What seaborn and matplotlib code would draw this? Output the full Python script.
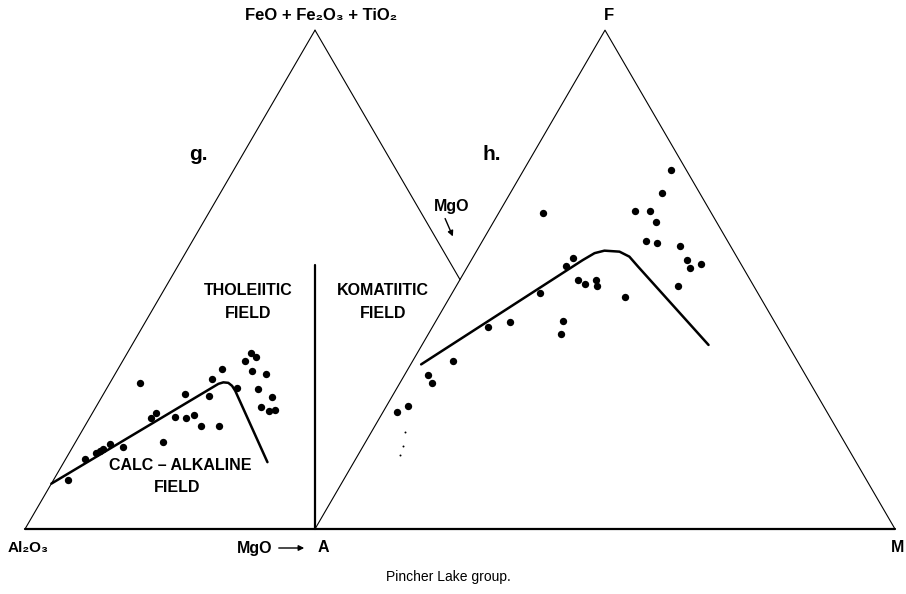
import numpy as np
import pandas as pd
import seaborn as sns
import matplotlib.pyplot as plt

# ---------------- data (ternary percentages) ----------------
# g. Jensen cation plot: Fe = FeO+Fe2O3+TiO2 (apex), Mg = MgO (right), Al2O3 = remainder
g_fe = [9.8, 14.0, 15.2, 15.7, 16.1, 17.0, 16.5, 29.2, 22.2, 23.2, 17.5, 22.4, 27.1, 22.2,
        22.9, 20.6, 26.7, 30.0, 20.6, 32.1, 28.2, 33.6, 35.3, 34.5, 31.7, 31.0, 28.1, 26.5,
        24.5, 23.6, 23.8]
g_mg = [2.5, 3.4, 4.6, 5.0, 5.35, 6.1, 8.65, 5.3, 10.7, 11.0, 15.0, 14.6, 14.05, 16.7,
        17.65, 20.1, 18.3, 17.2, 23.2, 17.9, 22.4, 21.2, 21.3, 22.65, 23.35, 26.1, 26.15, 29.4,
        28.45, 30.2, 31.2]
# calc-alkaline / tholeiitic boundary (g.)
g_curve_fe = [9.1, 29.1, 29.4, 29.3, 28.7, 27.7, 13.4]
g_curve_mg = [0.0, 18.8, 19.5, 20.4, 21.35, 22.4, 35.1]
# tholeiitic / komatiitic boundary (g.)
g_div_fe = [0.0, 52.9]
g_div_mg = [50.0, 23.55]

# h. AFM plot: F (apex), M (right), A = remainder
h_f = [23.4, 24.6, 30.9, 29.3, 33.7, 40.5, 41.4, 47.4, 39.1, 41.7, 52.7, 54.4, 50.0, 49.2,
       50.0, 48.7, 46.6, 63.3, 71.9, 67.3, 63.7, 63.7, 61.5, 57.7, 57.3, 56.7, 53.9, 52.4,
       53.1, 48.7]
h_m = [2.5, 3.8, 4.05, 5.6, 6.95, 9.65, 12.9, 15.1, 22.85, 21.95, 16.95, 17.3, 20.3, 22.0,
       23.5, 24.3, 30.2, 7.6, 25.35, 26.2, 23.4, 25.9, 28.0, 28.15, 30.25, 34.5, 37.25, 38.4,
       39.95, 38.15]
h_speck_f = [19.5, 16.7, 14.8]
h_speck_m = [5.75, 6.85, 7.2]
# tholeiitic / calc-alkaline boundary (h.)
h_curve_f = [33.0, 53.9, 55.3, 55.8, 55.6, 54.6, 52.6, 36.9]
h_curve_m = [1.8, 19.2, 20.55, 22.0, 24.7, 26.9, 29.4, 49.4]

S3 = np.sqrt(3) / 2


def tern_g(fe, mg):
    fe = np.asarray(fe, float); mg = np.asarray(mg, float)
    return mg + fe / 2, fe * S3


def tern_h(f, m):
    f = np.asarray(f, float); m = np.asarray(m, float)
    return 50 + m + f / 2, f * S3


def frame(xy):
    x, y = xy
    return pd.DataFrame({"x": x, "y": y, "o": np.arange(len(x))})


# ---------------- figure ----------------
sns.set_theme(style="white")
plt.rcParams["font.family"] = ["Liberation Sans", "DejaVu Sans"]

W, H = 906, 594
fig = plt.figure(figsize=(W / 100, H / 100), dpi=100)
ax = fig.add_axes([0, 0, 1, 1])
XL = (-25 / 5.8, (W - 25) / 5.8)
YL = (-(H - 529) / 5.76, 529 / 5.76)

k = "black"
# triangle outlines
ax.plot([0, 50], [0, 100 * S3], color=k, lw=0.8)
ax.plot([50, 75], [100 * S3, 50 * S3], color=k, lw=0.8)
ax.plot([50, 100, 150], [0, 100 * S3, 0], color=k, lw=0.8)
ax.plot([0, 150], [0, 0], color=k, lw=1.6)

# boundaries
gx, gy = tern_g(g_div_fe, g_div_mg)
ax.plot(gx, gy, color=k, lw=1.6)
sns.lineplot(data=frame(tern_g(g_curve_fe, g_curve_mg)), x="x", y="y", sort=False,
             estimator=None, color=k, lw=1.8, ax=ax)
sns.lineplot(data=frame(tern_h(h_curve_f, h_curve_m)), x="x", y="y", sort=False,
             estimator=None, color=k, lw=1.8, ax=ax)

# samples
sns.scatterplot(data=frame(tern_g(g_fe, g_mg)), x="x", y="y", color=k, s=28,
                linewidth=0, ax=ax)
sns.scatterplot(data=frame(tern_h(h_f, h_m)), x="x", y="y", color=k, s=28,
                linewidth=0, ax=ax)
sns.scatterplot(data=frame(tern_h(h_speck_f, h_speck_m)), x="x", y="y", color=k, s=2,
                linewidth=0, ax=ax)
ax.set_xlabel(""); ax.set_ylabel("")
ax.set_xlim(*XL)
ax.set_ylim(*YL)
ax.axis("off")


def px(x, y):
    return x / W, 1 - y / H


bold = dict(fontweight="bold", color=k, ha="center", va="center")
fig.text(*px(321, 16), "FeO + Fe₂O₃ + TiO₂", fontsize=12, **bold)
fig.text(*px(609, 16), "F", fontsize=12, **bold)
fig.text(*px(198, 155), "g.", fontsize=15, **bold)
fig.text(*px(492, 155), "h.", fontsize=15, **bold)
fig.text(*px(248, 291), "THOLEIITIC", fontsize=11.5, **bold)
fig.text(*px(248, 313), "FIELD", fontsize=11.5, **bold)
fig.text(*px(383, 291), "KOMATIITIC", fontsize=11.5, **bold)
fig.text(*px(383, 313), "FIELD", fontsize=11.5, **bold)
fig.text(*px(180, 466), "CALC – ALKALINE", fontsize=11.5, **bold)
fig.text(*px(177, 487), "FIELD", fontsize=11.5, **bold)
fig.text(*px(28, 548), "Al₂O₃", fontsize=11, **bold)
fig.text(*px(255, 548), "MgO", fontsize=11.5, **bold)
fig.text(*px(323, 548), "A", fontsize=11.5, **bold)
fig.text(*px(898, 547), "M", fontsize=11.5, **bold)
fig.text(*px(452, 206), "MgO", fontsize=11.5, **bold)
fig.text(*px(448, 577), "Pincher Lake group.", fontsize=10, color=k, ha="center", va="center")

arrow = dict(arrowstyle="-|>", color=k, lw=1.0, mutation_scale=8)
ax.annotate("", xy=px(307, 548), xytext=px(276, 548), xycoords="figure fraction",
            textcoords="figure fraction", arrowprops=arrow)
ax.annotate("", xy=px(454, 239), xytext=px(444, 216), xycoords="figure fraction",
            textcoords="figure fraction", arrowprops=arrow)

fig.savefig("out.png", dpi=100, facecolor="white")
